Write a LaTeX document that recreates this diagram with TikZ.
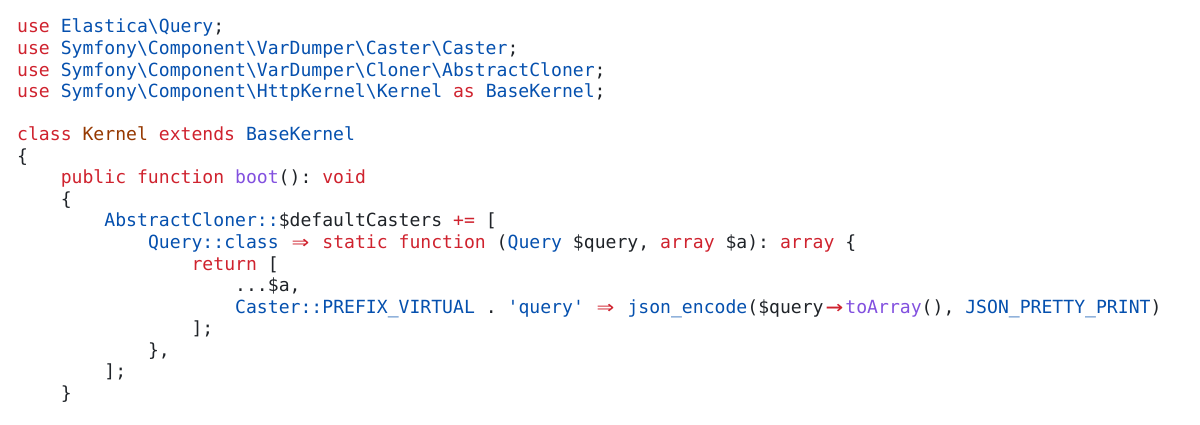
\documentclass[tikz,border=0pt]{standalone}
\usepackage{fontspec}
\setmonofont{DejaVu Sans Mono}
\definecolor{kwc}{HTML}{CF222E}
\definecolor{blc}{HTML}{0550AE}
\definecolor{brc}{HTML}{953800}
\definecolor{puc}{HTML}{8250DF}
\definecolor{txc}{HTML}{1F2328}
\newcommand{\kw}[1]{\textcolor{kwc}{#1}}
\newcommand{\bl}[1]{\textcolor{blc}{#1}}
\newcommand{\brn}[1]{\textcolor{brc}{#1}}
\newcommand{\pu}[1]{\textcolor{puc}{#1}}
\newcommand{\lig}[1]{\makebox[21.8pt]{\raisebox{-1pt}{\scalebox{1.6}[1.3]{#1}}}}
\newcommand{\bs}{\textbackslash}
\newcommand{\codeln}[3]{\node[codeline] (l#1) at ({17+#2*10.9},{425-33-#1*21.55}) {#3};}
\begin{document}
\begin{tikzpicture}[x=1pt,y=1pt,
  codeline/.style={anchor=base west,inner sep=0pt,font=\ttfamily\fontsize{18.1pt}{21pt}\selectfont,text=txc}]
\useasboundingbox (0,0) rectangle (1200,425);
\codeln{0}{0}{\kw{use} \bl{Elastica\bs Query};}
\codeln{1}{0}{\kw{use} \bl{Symfony\bs Component\bs VarDumper\bs Caster\bs Caster};}
\codeln{2}{0}{\kw{use} \bl{Symfony\bs Component\bs VarDumper\bs Cloner\bs AbstractCloner};}
\codeln{3}{0}{\kw{use} \bl{Symfony\bs Component\bs HttpKernel\bs Kernel} \kw{as} \bl{BaseKernel};}
\codeln{5}{0}{\kw{class} \brn{Kernel} \kw{extends} \bl{BaseKernel}}
\codeln{6}{0}{\{}
\codeln{7}{4}{\kw{public} \kw{function} \pu{boot}(): \kw{void}}
\codeln{8}{4}{\{}
\codeln{9}{8}{\bl{AbstractCloner}\bl{::}\$defaultCasters \kw{+=} [}
\codeln{10}{12}{\bl{Query}\bl{::class} \kw{\lig{⇒}} \kw{static} \kw{function} (\bl{Query} \$query, \kw{array} \$a): \kw{array} \{}
\codeln{11}{16}{\kw{return} [}
\codeln{12}{20}{...\$a,}
\codeln{13}{20}{\bl{Caster}\bl{::}\bl{PREFIX\_VIRTUAL} . \bl{'query'} \kw{\lig{⇒}} \bl{json\_encode}(\$query\kw{\lig{→}}\pu{toArray}(), \bl{JSON\_PRETTY\_PRINT})}
\codeln{14}{16}{];}
\codeln{15}{12}{\},}
\codeln{16}{8}{];}
\codeln{17}{4}{\}}
\end{tikzpicture}
\end{document}
